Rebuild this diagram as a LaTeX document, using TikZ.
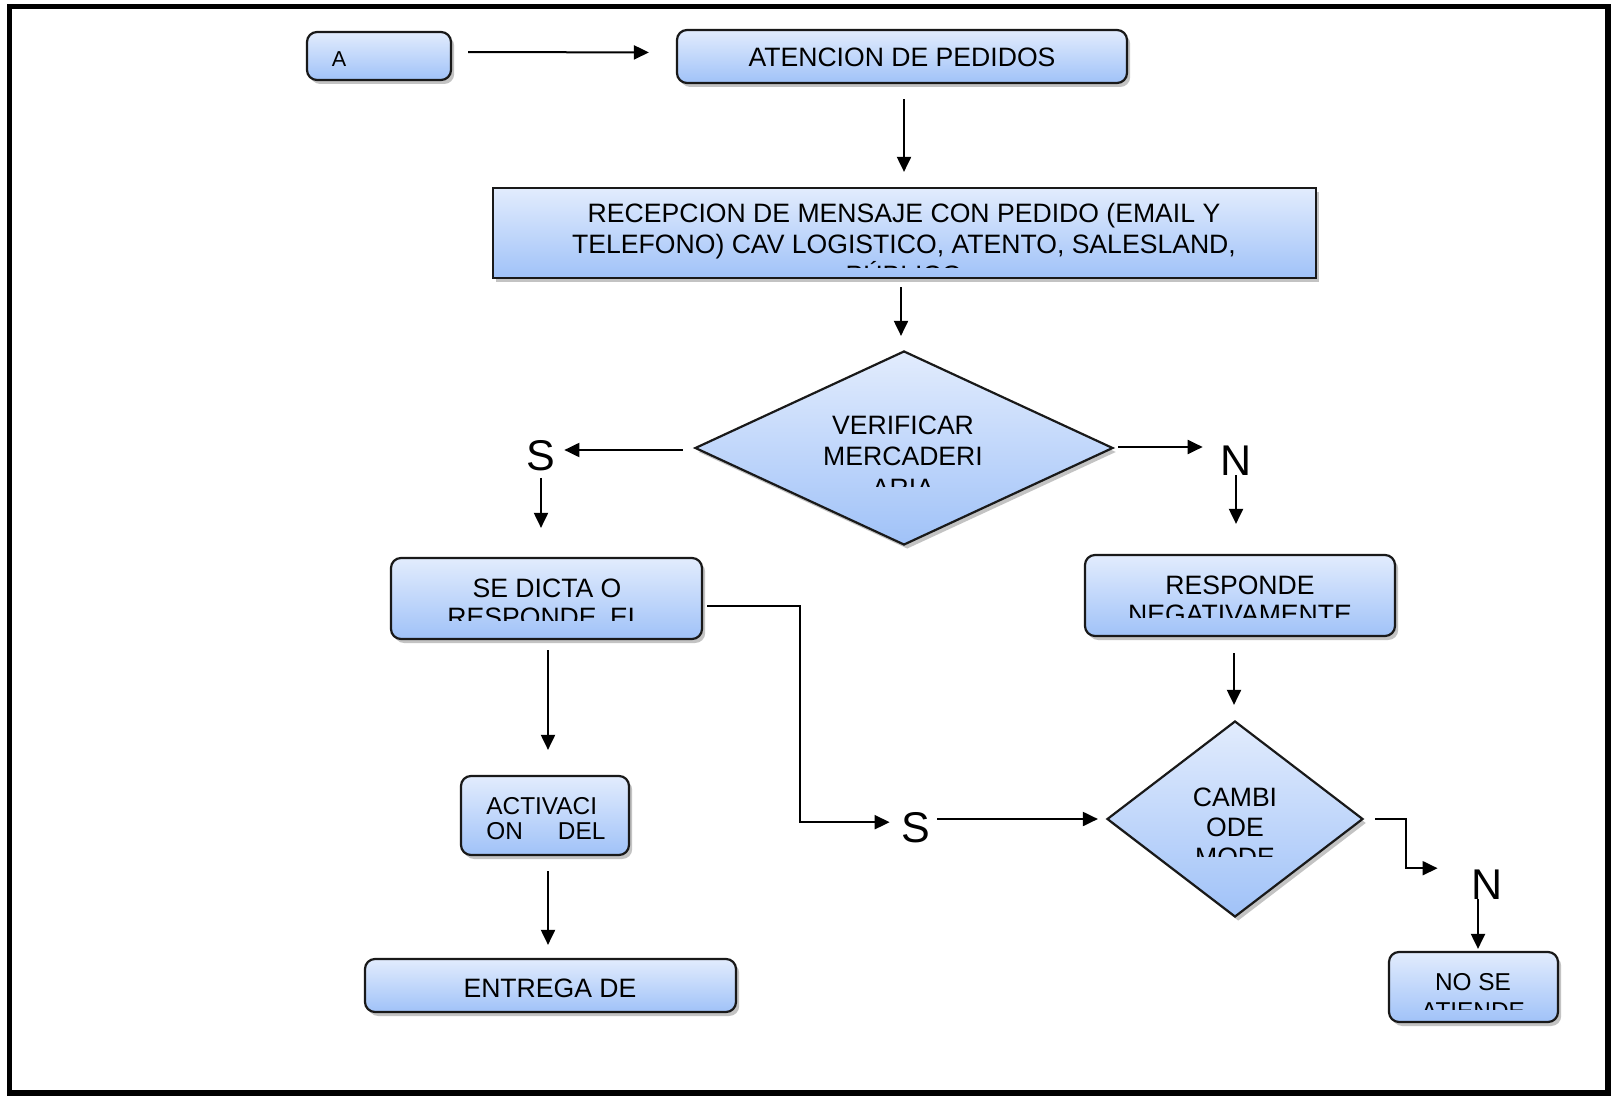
\documentclass[tikz,border=0pt]{standalone}
\usepackage{fontspec}
\setmainfont{Liberation Sans}
\usetikzlibrary{shapes.geometric,shadows,arrows.meta,calc}

\definecolor{boxtop}{RGB}{226,236,253}
\definecolor{boxbot}{RGB}{160,194,248}
\definecolor{edge}{RGB}{25,25,25}
\definecolor{shade}{RGB}{135,135,135}

\begin{document}
\begin{tikzpicture}[x=0.5pt,y=-0.5pt,
  base/.style={draw=edge, line width=1.1pt, top color=boxtop, bottom color=boxbot,
    inner sep=0pt, drop shadow={shadow xshift=1.6pt, shadow yshift=-2pt, fill=shade}},
  rbox/.style={base, rectangle, rounded corners=5pt},
  sqbox/.style={base, rectangle},
  dbox/.style={base, diamond},
  txt/.style={font=\fontsize{13.3}{16}\selectfont, inner sep=0pt, anchor=base},
  small/.style={font=\fontsize{12.2}{15}\selectfont},
  lbl/.style={font=\fontsize{21.5}{26}\selectfont, inner sep=0pt, anchor=base},
  arr/.style={line width=1pt, -{Triangle[length=7.5pt,width=7pt]}}
]
\useasboundingbox (0,0) rectangle (1611,1096);

% outer frame
\draw[line width=2.6pt] (9.5,6.5) rectangle (1608,1093);

% shapes
\node[rbox, minimum width=72pt, minimum height=24pt] (a) at (379,56) {};
\node[rbox, minimum width=225pt, minimum height=26.5pt] (atencion) at (902,56.5) {};
\node[sqbox, minimum width=411.5pt, minimum height=45pt] (recep) at (904.5,233) {};
\node[dbox, minimum width=209pt, minimum height=97pt] (verif) at (904,448) {};
\node[rbox, minimum width=155.5pt, minimum height=40.5pt] (dicta) at (546.5,598.5) {};
\node[rbox, minimum width=155pt, minimum height=40.5pt] (respneg) at (1240,595.5) {};
\node[rbox, minimum width=84pt, minimum height=39.5pt] (activ) at (545,815.5) {};
\node[rbox, minimum width=185.5pt, minimum height=26.5pt] (entrega) at (550.5,985.5) {};
\node[dbox, minimum width=128pt, minimum height=98pt] (cambio) at (1235,819) {};
\node[rbox, minimum width=84.5pt, minimum height=35pt] (nose) at (1473.5,987) {};

% texts (each text area cuts off its overflowing lines)
\node[txt, font=\fontsize{10.8}{13}\selectfont] (a-t) at (339,67) {A};
\node[txt] (atencion-t) at (902,67) {ATENCION DE PEDIDOS};

\begin{scope}
  \clip (495,190) rectangle (1314,268);
  \node[txt] (recep-t1) at (904,223) {RECEPCION DE MENSAJE CON PEDIDO (EMAIL Y};
  \node[txt] (recep-t2) at (904,254) {TELEFONO) CAV LOGISTICO, ATENTO, SALESLAND,};
  \node[txt] (recep-t3) at (904,285) {PÚBLICO};
\end{scope}

\begin{scope}
  \clip (700,360) rectangle (1108,486);
  \node[txt] (verif-t1) at (903,435) {VERIFICAR};
  \node[txt] (verif-t2) at (903,466) {MERCADERI};
  \node[txt] (verif-t3) at (903,497) {ARIA};
\end{scope}

\begin{scope}
  \clip (393,560) rectangle (700,620);
  \node[txt] (dicta-t1) at (547,597) {SE DICTA O};
  \node[txt] (dicta-t2) at (545,626) {RESPONDE\hspace{3pt} EL};
\end{scope}

\begin{scope}
  \clip (1087,557) rectangle (1393,617);
  \node[txt] (respneg-t1) at (1240,594) {RESPONDE};
  \node[txt] (respneg-t2) at (1240,623) {NEGATIVAMENTE};
\end{scope}

\node[txt, small, anchor=base west] (activ-t1) at (486,814) {ACTIVACI};
\node[txt, small, anchor=base west] (activ-t2) at (486,839) {\makebox[59.5pt][s]{ON\hfill DEL}};

\node[txt] (entrega-t) at (550,997) {ENTREGA DE};

\begin{scope}
  \clip (1110,730) rectangle (1360,856);
  \node[txt] (cambio-t1) at (1235,806) {CAMBI};
  \node[txt] (cambio-t2) at (1235,836) {ODE};
  \node[txt] (cambio-t3) at (1235,866) {MODE};
\end{scope}

\begin{scope}
  \clip (1391,954) rectangle (1556,1009);
  \node[txt, small] (nose-t1) at (1473,990) {NO SE};
  \node[txt, small] (nose-t2) at (1473,1019) {ATIENDE};
\end{scope}

% branch labels
\node[lbl] (s1) at (541,470) {S};
\node[lbl] (n1) at (1236,475) {N};
\node[lbl] (s2) at (916,842) {S};
\node[lbl] (n2) at (1487,899) {N};

% connectors
\draw[arr, shorten <=8pt, shorten >=13.5pt] ($(a.east)+(0,-4)$) -- ($(atencion.west)+(0,-4)$);
\draw[arr, shorten <=7.5pt, shorten >=7.5pt] ($(atencion.south)+(2,0)$) -- ($(recep.north)+(-0.5,0)$);
\draw[arr, shorten <=4pt, shorten >=7pt] ($(recep.south)+(-3.5,0)$) -- ($(verif.north)+(-3,0)$);
\draw[arr, shorten <=5.5pt, shorten >=4.3pt] ($(verif.west)+(0,2)$) -- ($(verif.west -| s1.east)+(0,2)$);
\draw[arr, shorten <=3.5pt, shorten >=14.5pt] (s1.south) -- (s1.south |- dicta.north);
\draw[arr, shorten <=2pt, shorten >=8.7pt] ($(verif.east)+(0,-1)$) -- ($(verif.east -| n1.west)+(0,-1)$);
\draw[arr, shorten >=15pt] (n1.south) -- (n1.south |- respneg.north);
\draw[arr, shorten >=5.8pt] ($(dicta.east)+(4,7.5)$) -- ++(93,0) |- ($(s2.west)+(0,-5)$);
\draw[arr, shorten <=3.3pt, shorten >=4pt] (s2.east |- cambio.west) -- (cambio.west);
\draw[arr, shorten <=5pt, shorten >=12.5pt] ($(dicta.south)+(1.5,0)$) -- ($(activ.north)+(3,0)$);
\draw[arr, shorten <=7.5pt, shorten >=6.5pt] ($(activ.south)+(3,0)$) -- ($(entrega.north)+(-2.5,0)$);
\draw[arr, shorten <=8pt, shorten >=7.5pt] ($(respneg.south)+(-6,0)$) -- ($(cambio.north)+(-1,0)$);
\draw[arr] ($(cambio.east)+(11,0)$) -- ++(31,0) |- ($(n2.west)+(-33.5,-16)$);
\draw[arr, shorten >=1pt] ($(n2.south)+(-9,0)$) -- ($(nose.north)+(4.5,0)$);
\end{tikzpicture}
\end{document}
